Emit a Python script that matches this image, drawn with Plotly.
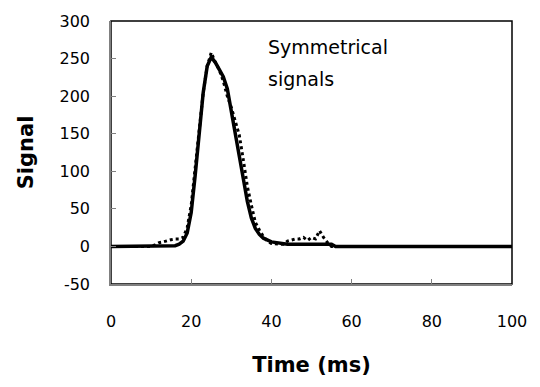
import plotly.graph_objects as go

# Solid signal
solid_t = [0, 14, 16, 17, 18, 19, 20, 21, 22, 23, 24, 25, 26, 27, 28, 29, 30, 31, 32, 33, 34, 35, 36, 37, 38, 40, 42, 44, 55, 56, 100]
solid_v = [0, 0, 1, 3, 7, 18, 45, 95, 148, 205, 240, 252, 245, 236, 226, 210, 178, 148, 120, 90, 60, 38, 24, 16, 11, 6, 4, 3, 3, 0, 0]

# Dotted signal
dot_t = [0, 10, 11, 12, 13, 14, 15, 16, 17, 18, 19, 20, 21, 22, 23, 24, 25, 26, 27, 28, 29, 30, 31, 32, 33, 34, 35, 36, 37, 38, 39, 40, 42, 43, 44, 45, 46, 47, 48, 49, 50, 51, 52, 53, 54, 55, 100]
dot_v = [0, 0, 2, 5, 6, 8, 9, 10, 10, 12, 25, 55, 105, 155, 205, 240, 258, 245, 235, 220, 200, 185, 168, 148, 115, 80, 55, 32, 22, 13, 7, 4, 3, 3, 7, 9, 10, 10, 12, 8, 12, 10, 21, 12, 5, 0, 0]

x_ticks = [0, 20, 40, 60, 80, 100]
y_ticks = [-50, 0, 50, 100, 150, 200, 250, 300]
y_tick_text = ["-50", "0", "50", "100", "150", "200", "250", "300"]

FONT = "DejaVu Sans"

fig = go.Figure()
fig.add_trace(go.Scatter(x=dot_t, y=dot_v, mode="lines",
                         line=dict(color="black", width=3, dash="dot"), showlegend=False))
fig.add_trace(go.Scatter(x=solid_t, y=solid_v, mode="lines",
                         line=dict(color="black", width=3.5), showlegend=False))

fig.add_shape(type="rect", xref="paper", yref="paper", x0=0, y0=0, x1=1, y1=1,
              line=dict(color="black", width=1.5), layer="below")

fig.add_annotation(x=0.387, y=0.902, xref="paper", yref="paper",
                   text="Symmetrical", showarrow=False,
                   xanchor="left", yanchor="middle",
                   font=dict(family=FONT, size=19, color="black"))
fig.add_annotation(x=0.387, y=0.78, xref="paper", yref="paper",
                   text="signals", showarrow=False,
                   xanchor="left", yanchor="middle",
                   font=dict(family=FONT, size=19, color="black"))

fig.update_layout(
    width=540, height=387,
    margin=dict(l=111, r=28, t=13, b=103),
    paper_bgcolor="white", plot_bgcolor="white",
    font=dict(family=FONT, color="black"),
    xaxis=dict(range=[0, 100], tickvals=x_ticks, ticks="inside", ticklen=5,
               tickcolor="#808080", showgrid=False, zeroline=False,
               showline=True, linecolor="#808080", linewidth=1.5,
               tickfont=dict(size=16), ticklabelstandoff=22,
               title=dict(text="<b>Time (ms)</b>", font=dict(size=21), standoff=27)),
    yaxis=dict(range=[-50, 300], tickvals=y_ticks, ticktext=y_tick_text,
               ticks="inside", ticklen=5,
               tickcolor="#808080", showgrid=False, zeroline=False,
               showline=True, linecolor="#808080", linewidth=1.5,
               tickfont=dict(size=16), ticklabelstandoff=16,
               title=dict(text="<b>Signal</b>", font=dict(size=21), standoff=20)),
)

fig.write_html("out.html")
